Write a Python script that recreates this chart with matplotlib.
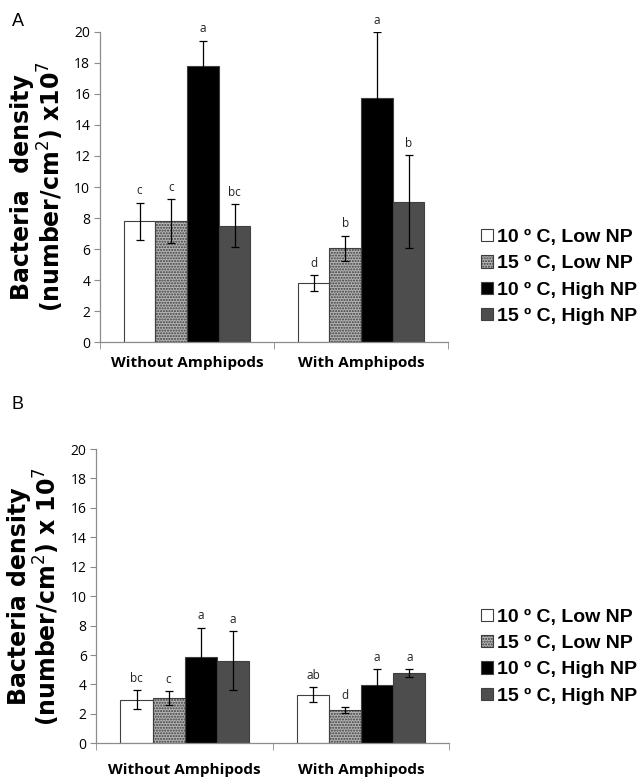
import matplotlib

matplotlib.use("Agg")
import matplotlib.pyplot as plt
import numpy as np
from matplotlib.patches import Patch

GROUPS = ["Without Amphipods", "With Amphipods"]
TREATMENTS = ["10 º C, Low NP", "15 º C, Low NP", "10 º C, High NP", "15 º C, High NP"]

# panel A: mean and error per treatment, [without, with]
A_MEAN = [[7.8, 3.8], [7.8, 6.05], [17.8, 15.75], [7.5, 9.05]]
A_ERR = [[1.2, 0.5], [1.4, 0.8], [1.65, 4.25], [1.4, 3.0]]
A_LETTERS = [["c", "d"], ["c", "b"], ["a", "a"], ["bc", "b"]]

# panel B
B_MEAN = [[2.95, 3.3], [3.1, 2.25], [5.9, 3.97], [5.62, 4.77]]
B_ERR = [[0.65, 0.52], [0.48, 0.2], [1.97, 1.05], [2.0, 0.28]]
B_LETTERS = [["bc", "ab"], ["c", "d"], ["a", "a"], ["a", "a"]]

FACE = ["white", "#b4b4b4", "black", "#4d4d4d"]
HATCH = [None, "......", None, None]
HATCH_EDGE = "#3c3c3c"
EDGE = "#404040"
AXIS_GREY = "#8c8c8c"

W = 0.182


def draw_panel(ax, means, errs, letters, ylabel, xpad):
    x = np.arange(len(GROUPS))
    for i in range(len(TREATMENTS)):
        xi = x + (i - 1.5) * W
        if HATCH[i]:
            ax.bar(xi, means[i], W, color=FACE[i], edgecolor=HATCH_EDGE, hatch=HATCH[i],
                   linewidth=0, zorder=2)
            ax.bar(xi, means[i], W, facecolor="none", edgecolor=EDGE, linewidth=0.8, zorder=3)
        else:
            ax.bar(xi, means[i], W, color=FACE[i], edgecolor=EDGE, linewidth=0.8, zorder=2)
        ax.errorbar(xi, means[i], yerr=errs[i], fmt="none", ecolor="black",
                    elinewidth=0.9, capsize=3, capthick=0.9, zorder=4)
        for xx, m, e, lab in zip(xi, means[i], errs[i], letters[i]):
            ax.text(xx, m + e + 0.35, lab, ha="center", va="bottom", fontsize=8.5,
                    family="Open Sans", color="#222222")

    ax.set_xlim(-0.5, 1.5)
    ax.set_ylim(0, 20)
    ax.set_yticks(range(0, 21, 2))
    ax.set_xticks(x)
    ax.set_xticklabels(GROUPS, fontsize=11, fontweight="bold", family="Open Sans")
    ax.set_xticks([-0.5, 0.5, 1.5], minor=True)
    ax.tick_params(axis="x", which="major", length=0, pad=xpad)
    ax.tick_params(axis="x", which="minor", length=5, color=AXIS_GREY, direction="out")
    ax.tick_params(axis="y", length=4, color=AXIS_GREY, labelsize=10, pad=3)
    for lab in ax.get_yticklabels():
        lab.set_family("Open Sans")
    for s in ["top", "right"]:
        ax.spines[s].set_visible(False)
    for s in ["left", "bottom"]:
        ax.spines[s].set_color(AXIS_GREY)
        ax.spines[s].set_linewidth(0.9)
    ax.set_ylabel(ylabel, fontsize=17, fontweight="bold", family="DejaVu Sans",
                  linespacing=1.05, labelpad=6)


fig = plt.figure(figsize=(6.43, 7.8), dpi=100)
axA = fig.add_axes([0.1555, 0.5615, 0.5415, 0.3975])
axB = fig.add_axes([0.150, 0.047, 0.549, 0.3773])

draw_panel(axA, A_MEAN, A_ERR, A_LETTERS, "Bacteria  density\n(number/cm$^{2}$) x10$^{7}$", 10)
draw_panel(axB, B_MEAN, B_ERR, B_LETTERS, "Bacteria density\n(number/cm$^{2}$) x 10$^{7}$", 14)

fig.text(0.018, 0.972, "A", fontsize=13, family="Liberation Sans", va="center")
fig.text(0.018, 0.482, "B", fontsize=13, family="Liberation Sans", va="center")

handles = [Patch(facecolor=FACE[i], edgecolor=(HATCH_EDGE if HATCH[i] else EDGE),
                 hatch=HATCH[i], linewidth=0.8) for i in range(len(TREATMENTS))]
for yc in [0.645, 0.158]:
    fig.legend(handles, TREATMENTS, loc="center left", bbox_to_anchor=(0.748, yc),
               frameon=False, prop={"family": "Liberation Sans", "weight": "bold", "size": 14},
               handlelength=0.6, handleheight=0.6, handletextpad=0.25, labelspacing=0.48,
               borderpad=0, borderaxespad=0)

fig.savefig("out.png", dpi=100)
